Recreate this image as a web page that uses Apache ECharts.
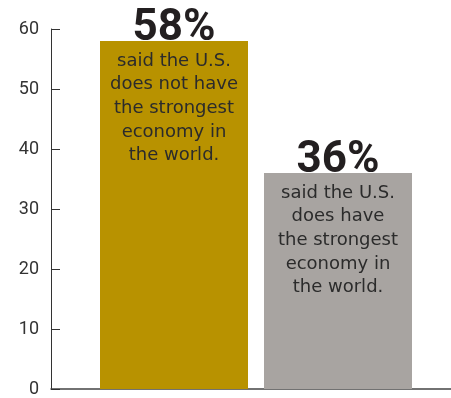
<!DOCTYPE html>
<html>
<head>
<meta charset="utf-8">
<script src="https://cdn.jsdelivr.net/npm/echarts@6/dist/echarts.min.js"></script>
<style>html,body{margin:0;padding:0;background:#fff;}#c{width:451px;height:398px;}</style>
</head>
<body>
<div id="c"></div>
<script>
var categories = ['Does not have', 'Does have'];
var values = [58, 36];
var descriptions = [
  ['said the U.S.', 'does not have', 'the strongest', 'economy in', 'the world.'],
  ['said the U.S.', 'does have', 'the strongest', 'economy in', 'the world.']
];
var yTicks = [0, 10, 20, 30, 40, 50, 60];

var barColors = ['#B89200', '#A8A4A1'];
var chart = echarts.init(document.getElementById('c'), null, {renderer: 'canvas'});
var option = {
  animation: false,
  grid: [
    {left: 51, right: 0, top: 29, bottom: 9},
    {left: 92, right: 31, top: 29, bottom: 9}
  ],
  xAxis: [
    {gridIndex: 0, type: 'category', data: [''],
     axisLine: {lineStyle: {color: '#444', width: 1.5}},
     axisTick: {show: false}, axisLabel: {show: false}},
    {gridIndex: 1, type: 'category', data: categories, show: false}
  ],
  yAxis: [
    {gridIndex: 0, type: 'value', min: yTicks[0], max: yTicks[yTicks.length - 1], interval: 10,
     axisLine: {show: true, lineStyle: {color: '#333', width: 1}},
     axisTick: {show: true, inside: true, length: 9, lineStyle: {color: '#333'}},
     axisLabel: {margin: 12, fontSize: 18, color: '#333', fontFamily: 'Roboto'},
     splitLine: {show: false}},
    {gridIndex: 1, type: 'value', min: yTicks[0], max: yTicks[yTicks.length - 1], show: false}
  ],
  series: [{
    type: 'bar',
    xAxisIndex: 1, yAxisIndex: 1,
    barWidth: 148,
    data: values.map(function (v, i) {
      return {value: v, itemStyle: {color: barColors[i]}};
    }),
    label: {
      show: true,
      position: 'insideTop',
      distance: 0,
      offset: [0, -32],
      formatter: function (p) {
        return '{num|' + values[p.dataIndex] + '%}\n{txt|' +
          descriptions[p.dataIndex].join('}\n{txt|') + '}';
      },
      rich: {
        num: {fontFamily: 'Roboto', fontWeight: 'bold', fontSize: 44, lineHeight: 40, color: '#231f20'},
        txt: {fontFamily: 'DejaVu Sans', fontSize: 18, lineHeight: 23.7, color: '#2b2b2b'}
      }
    }
  }]
};
chart.setOption(option);
</script>
</body>
</html>
